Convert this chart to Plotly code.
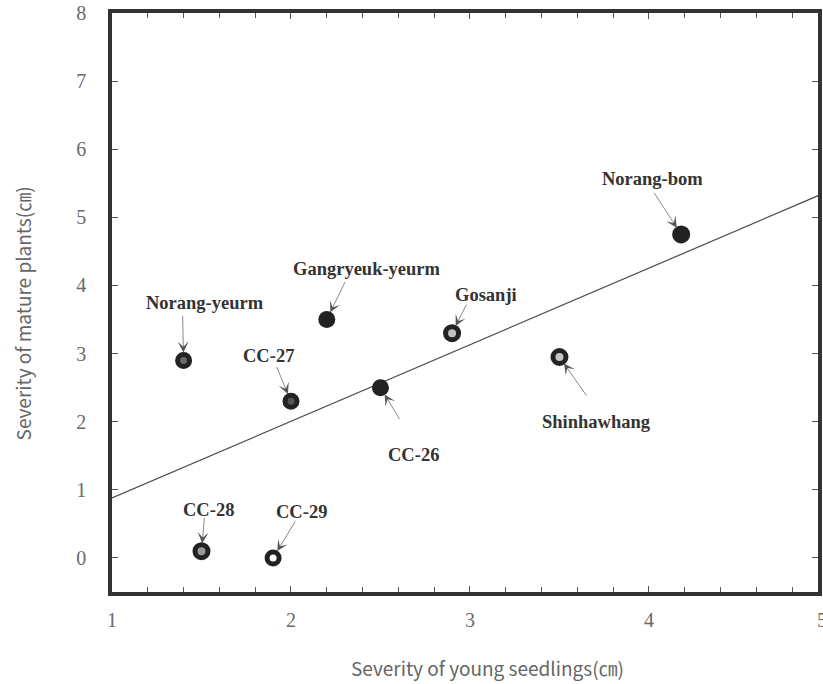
import plotly.graph_objects as go

# ---- data ----
cultivars = ["Norang-yeurm", "Gangryeuk-yeurm", "CC-27", "CC-26", "Gosanji",
             "Shinhawhang", "Norang-bom", "CC-28", "CC-29"]
young_seedlings = [1.4, 2.2, 2.0, 2.5, 2.9, 3.5, 4.18, 1.5, 1.9]
mature_plants = [2.9, 3.5, 2.3, 2.5, 3.3, 2.95, 4.75, 0.1, 0.0]

trend_x = [1.0, 5.0]
trend_y = [0.88, 5.38]

x_ticks = [1, 2, 3, 4]
y_ticks = [0, 1, 2, 3, 4, 5, 6, 7, 8]

# ---- style ----
DARK = "#222222"
SERIF = "Liberation Serif, Times New Roman, DejaVu Serif, serif"
fills = ["#6a6a6a", DARK, "#555555", DARK, "#c4c4c4", "#c4c4c4", DARK, "#999999", "#ffffff"]
line_w = [5, 0, 5, 0, 5, 5, 0, 5, 5]
sizes = [12, 17, 12, 17, 13, 13, 18, 13, 12]

# label centre offset (px, relative to point; +x right, +y down) and arrow tail offset
label_off = [(21, -57), (40, -51), (-22, -45), (33, 67), (34, -38),
             (37, 65), (-29, -55), (7, -41), (28, -46)]
arrow_tail = [(-1, -46), (19, -39), (-15, -36), (20, 33), (15, -30),
              (28, 40), (-28, -43), (3, -35), (23, -38)]

X_RANGE = [1.0, 1.0 + 710 / 180]
Y_RANGE = [-0.5, 8.0]

fig = go.Figure()

fig.add_trace(go.Scatter(
    x=trend_x, y=trend_y, mode="lines",
    line=dict(color="#4a4a4a", width=1.2),
    showlegend=False, hoverinfo="skip"))

fig.add_trace(go.Scatter(
    x=young_seedlings, y=mature_plants, mode="markers",
    marker=dict(size=sizes, color=fills, opacity=1,
                line=dict(color=DARK, width=line_w)),
    text=cultivars, showlegend=False))

annotations = []
for name, xv, yv, (lx, ly), (tx, ty) in zip(cultivars, young_seedlings, mature_plants,
                                            label_off, arrow_tail):
    annotations.append(dict(
        x=xv, y=yv, xref="x", yref="y", text="", showarrow=True,
        ax=tx, ay=ty, axref="pixel", ayref="pixel",
        arrowhead=3, arrowsize=2.6, arrowwidth=0.7, arrowcolor="#555555",
        standoff=8))
    annotations.append(dict(
        x=xv, y=yv, xref="x", yref="y", text="<b>" + name + "</b>", showarrow=False,
        xshift=lx, yshift=-ly, xanchor="center", yanchor="middle",
        font=dict(family=SERIF, size=18.5, color="#333333"),
        ))

# partially visible tick label "5" at the right edge of the frame
annotations.append(dict(
    x=1.0, y=-0.0484, xref="paper", yref="paper", text="5", showarrow=False,
    xanchor="left", yanchor="middle", xshift=-3,
    font=dict(family=SERIF, size=20, color="#6a6a6a")))

# axis titles
annotations.append(dict(
    x=0.532, y=-0.131, xref="paper", yref="paper",
    text="Severity of young seedlings(㎝)", showarrow=False,
    xanchor="center", yanchor="middle",
    font=dict(family="Noto Sans CJK KR", size=19, color="#666666")))
annotations.append(dict(
    x=-0.1268, y=0.482, xref="paper", yref="paper",
    text="Severity of mature plants(㎝)", showarrow=False, textangle=-90,
    xanchor="center", yanchor="middle",
    font=dict(family="Noto Sans CJK KR", size=19, color="#666666")))

axis_common = dict(
    showgrid=False, zeroline=False, showline=True, linewidth=3.5,
    linecolor="#333333", mirror="allticks", ticks="inside", ticklen=6,
    tickwidth=1, tickcolor="#555555",
    tickfont=dict(family=SERIF, size=20, color="#6a6a6a"),
)

fig.update_layout(
    width=823, height=684,
    margin=dict(l=112, r=1, t=13, b=92),
    paper_bgcolor="white", plot_bgcolor="white",
    annotations=annotations,
    xaxis=dict(range=X_RANGE, tickvals=x_ticks, ticklabelstandoff=7,
               minor=dict(dtick=0.2, tick0=1, ticks="inside", ticklen=5,
                          tickcolor="#555555", tickwidth=1),
               **axis_common),
    yaxis=dict(range=Y_RANGE, tickvals=y_ticks, ticklabelstandoff=18,
               **axis_common),
)

fig.write_html("out.html", config={"displayModeBar": False},
               post_script="document.body.style.margin='0';document.body.style.overflow='hidden';")
